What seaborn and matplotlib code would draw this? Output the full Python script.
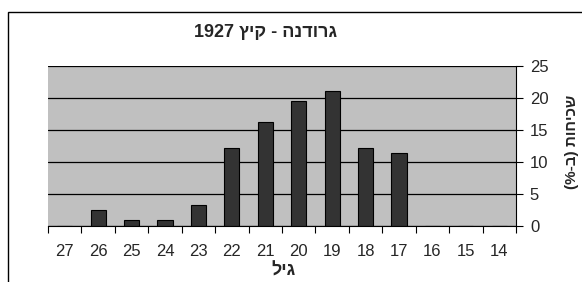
import matplotlib
matplotlib.use('Agg')
import matplotlib.pyplot as plt
import seaborn as sns
import pandas as pd
from matplotlib.patches import Rectangle
from matplotlib.ticker import FixedLocator

# ages shown right-to-left on the x axis (27 ... 14)
ages = ['27', '26', '25', '24', '23', '22', '21', '20', '19', '18', '17', '16', '15', '14']
freq = [0, 2.5, 0.9, 0.9, 3.25, 12.2, 16.3, 19.55, 21.1, 12.2, 11.4, 0, 0, 0]
yticks = [0, 5, 10, 15, 20, 25]

# hebrew strings in visual order (matplotlib has no bidi)
title = '1927 ץיק - הנדורג'
xlabel = 'ליג'
ylabel = '(%-ב) תוחיכש'

sns.set_style('white')
plt.rcParams['font.family'] = ['Liberation Sans', 'DejaVu Sans']

df = pd.DataFrame({'age': ages, 'freq': freq})

fig = plt.figure(figsize=(5.82, 2.82), dpi=100)
ax = fig.add_axes([48 / 582, 1 - 226 / 282, 468 / 582, 160 / 282])
ax.set_facecolor('#c0c0c0')

sns.barplot(data=df, x='age', y='freq', order=ages, color='#333333',
            edgecolor='black', linewidth=0.8, width=0.45, saturation=1, ax=ax)

ax.set_xlim(-0.5, len(ages) - 0.5)
ax.set_ylim(0, 25)
ax.set_yticks(yticks)
ax.yaxis.tick_right()
ax.yaxis.grid(True, color='black', linewidth=0.9)
ax.set_axisbelow(True)
ax.tick_params(axis='y', which='major', direction='out', length=5, width=0.8,
               color='black', labelsize=12, pad=5, right=True, left=False)

ax.xaxis.set_minor_locator(FixedLocator([i - 0.5 for i in range(len(ages) + 1)]))
ax.tick_params(axis='x', which='major', length=0, labelsize=12, pad=13)
ax.tick_params(axis='x', which='minor', direction='out', length=5, width=0.8,
               color='black', bottom=True)

ax.set_xlabel('')
ax.set_ylabel('')
for s in ['left', 'top']:
    ax.spines[s].set_visible(False)
ax.spines['right'].set_color('black')
ax.spines['right'].set_linewidth(0.8)
ax.spines['bottom'].set_color('black')
ax.spines['bottom'].set_linewidth(0.8)

fig.text(283 / 582, 1 - 271 / 282, xlabel, ha='center', va='center',
         fontsize=13, fontweight='bold')
fig.text(572 / 582, 1 - 142 / 282, ylabel, ha='center', va='center',
         rotation=90, fontsize=11, fontweight='bold')
fig.text(266 / 582, 1 - 33 / 282, title, ha='center', va='center',
         fontsize=13, fontweight='bold')

# outer chart border (right and bottom edges fall outside the image)
top = 1 - 12 / 282
fig.add_artist(Rectangle((8 / 582, -0.2), 1.2, top + 0.2,
                         transform=fig.transFigure, fill=False,
                         edgecolor='black', linewidth=1))

fig.savefig('out.png', dpi=100)
